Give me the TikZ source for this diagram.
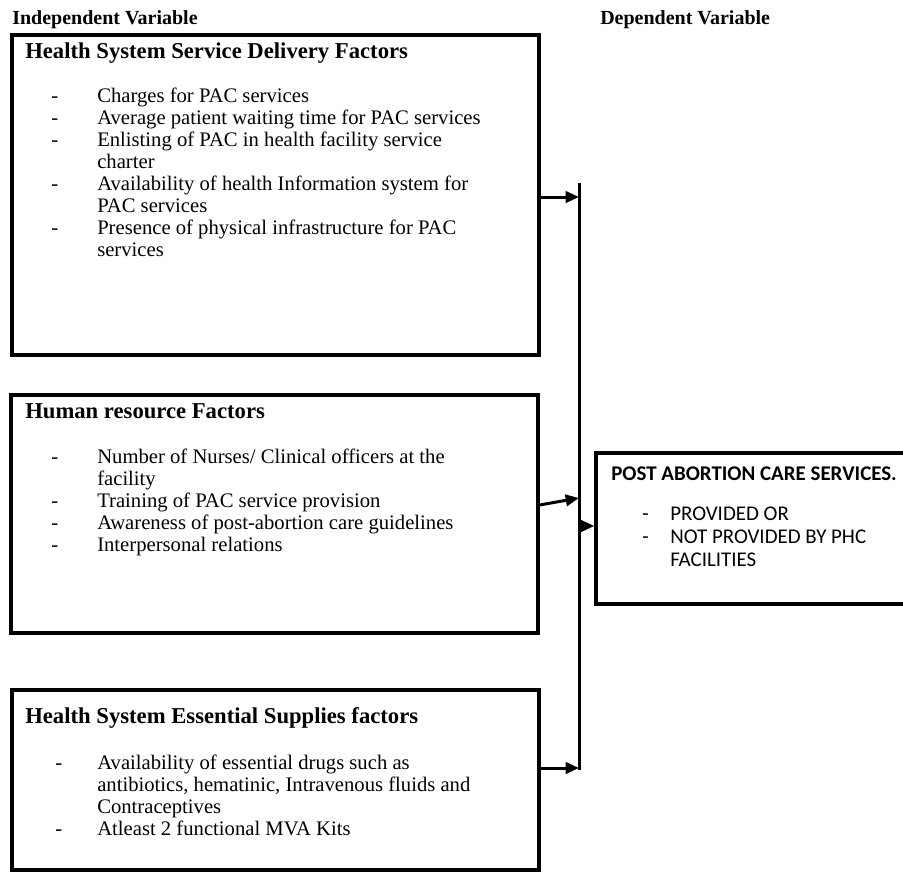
\documentclass[tikz,border=0pt]{standalone}
\usepackage{fontspec}
\setmainfont{Liberation Serif}
\newfontfamily\carlitofont{Carlito}
\usetikzlibrary{arrows.meta,fit}
\begin{document}
\begin{tikzpicture}
[x=0.75pt,y=-0.75pt,
  boxdecorate/.style={shape=rectangle,draw,line width=2.5pt,inner sep=0pt},%
  arrowdecorate/.style={-{Triangle[length=10pt,width=8.5pt]},line width=2.25pt},%
  headdecorate/.style={anchor=base west,inner sep=0pt,font=\fontsize{15}{17}\selectfont\bfseries},%
  titledecorate/.style={anchor=base west,inner sep=0pt,font=\fontsize{17}{19}\selectfont\bfseries},%
  listdecorate/.style={anchor=base west,inner sep=0pt,font=\fontsize{15.5}{16.5}\selectfont},%
  outcomedecorate/.style={anchor=base west,inner sep=0pt,font=\fontsize{15.7}{17.25}\selectfont\carlitofont}]
\useasboundingbox (0,0) rectangle (903,878);
%% headings
\node (indep) [headdecorate] at (12,24) {Independent Variable};
\node (dep) [headdecorate] at (600,24) {Dependent Variable};
%% boxes
\node (delivery) [boxdecorate,fit={(12,35) (539,355)}] {};
\node (resource) [boxdecorate,fit={(11,395) (538,633)}] {};
\node (supplies) [boxdecorate,fit={(12,690) (539,870)}] {};
\node (outcome) [boxdecorate,fit={(596,453) (910,604)}] {};
%% box texts
\node (deliverytitle) [titledecorate] at (25,58) {Health System Service Delivery Factors};
\node (deliverylist) [listdecorate] at (51,102) {%
  \begin{tabular}[t]{@{}p{34.5pt}@{}l@{}}
  - & Charges for PAC services\\
  - & Average patient waiting time for PAC services\\
  - & Enlisting of PAC in health facility service\\
    & charter\\
  - & Availability of health Information system for\\
    & PAC services\\
  - & Presence of physical infrastructure for PAC\\
    & services
  \end{tabular}};
\node (resourcetitle) [titledecorate] at (25,418) {Human resource Factors};
\node (resourcelist) [listdecorate] at (51,463) {%
  \begin{tabular}[t]{@{}p{34.5pt}@{}l@{}}
  - & Number of Nurses/ Clinical officers at the\\
    & facility\\
  - & Training of PAC service provision\\
  - & Awareness of post-abortion care guidelines\\
  - & Interpersonal relations
  \end{tabular}};
\node (suppliestitle) [titledecorate] at (25,723) {Health System Essential Supplies factors};
\node (supplieslist) [listdecorate] at (55,769) {%
  \begin{tabular}[t]{@{}p{31.5pt}@{}l@{}}
  - & Availability of essential drugs such as\\
    & antibiotics, hematinic, Intravenous fluids and\\
    & Contraceptives\\
  - & Atleast 2 functional MVA Kits
  \end{tabular}};
\node (outcometitle) [outcomedecorate,font=\fontsize{15.7}{17.25}\selectfont\carlitofont\bfseries] at (611,480) {POST ABORTION CARE SERVICES.};
\node (outcomelist) [outcomedecorate] at (642,520) {%
  \begin{tabular}[t]{@{}p{21pt}@{}l@{}}
  - & PROVIDED OR\\
  - & NOT PROVIDED BY PHC\\
    & FACILITIES
  \end{tabular}};
%% connectors
\coordinate (bartop) at (579,183);
\coordinate (barbottom) at (579,770);
\coordinate (deliveryend) at (579,197);
\coordinate (resourceend) at (579,498);
\coordinate (suppliesend) at (579,768);
\coordinate (outcomestart) at (579,526);
\draw [line width=2.25pt] (bartop) -- (barbottom);
\draw [arrowdecorate] (delivery.east |- deliveryend) -- (deliveryend);
\draw [arrowdecorate] ([yshift=6.75pt]resource.east) -- (resourceend);
\draw [arrowdecorate] (supplies.east |- suppliesend) -- (suppliesend);
\draw [arrowdecorate] (outcomestart) -- (outcome.west |- outcomestart);
\end{tikzpicture}
\end{document}
